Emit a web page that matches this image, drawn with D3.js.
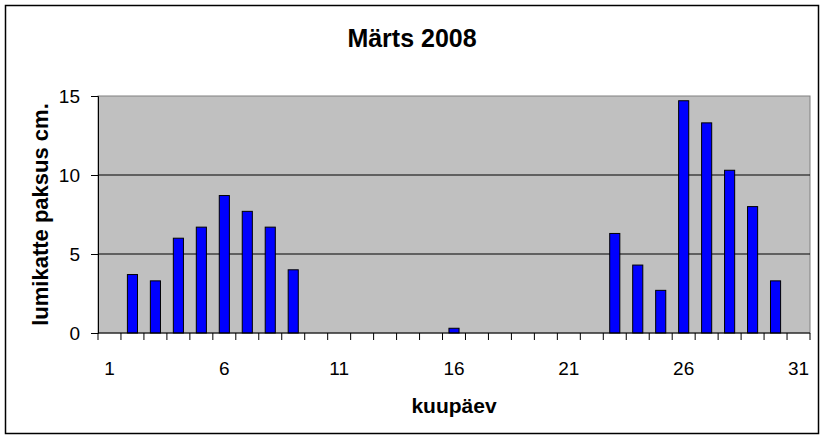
<!DOCTYPE html>
<html>
<head>
<meta charset="utf-8">
<script src="https://cdn.jsdelivr.net/npm/d3@7"></script>
<style>
  body { margin: 0; background: #fff; }
  text { font-family: "Liberation Sans", Arial, sans-serif; }
</style>
</head>
<body>
<svg id="chart" width="826" height="440"></svg>
<script>
// Chart data
const days = d3.range(1, 32);
const snowDepth = [0, 3.7, 3.3, 6, 6.7, 8.7, 7.7, 6.7, 4, 0, 0, 0, 0, 0, 0, 0.3,
                   0, 0, 0, 0, 0, 0, 6.3, 4.3, 2.7, 14.7, 13.3, 10.3, 8, 3.3, 0];
const xTickLabels = [1, 6, 11, 16, 21, 26, 31];
const yTicks = [0, 5, 10, 15];

const width = 826, height = 440;
const margin = { top: 96, right: 16, bottom: 107, left: 98 };
const plotW = width - margin.left - margin.right;
const plotH = height - margin.top - margin.bottom;

const svg = d3.select("#chart");

// Outer frame
svg.append("rect")
    .attr("x", 5.5).attr("y", 5.5)
    .attr("width", 813).attr("height", 428)
    .attr("fill", "#fff")
    .attr("stroke", "#000")
    .attr("stroke-width", 1.5);

const x = d3.scaleBand()
    .domain(days)
    .range([0, plotW])
    .paddingInner(0.56)
    .paddingOuter(0.28);

const y = d3.scaleLinear()
    .domain([0, 15])
    .range([plotH, 0]);

const g = svg.append("g")
    .attr("transform", `translate(${margin.left},${margin.top})`);

// Plot area background
g.append("rect")
    .attr("width", plotW)
    .attr("height", plotH)
    .attr("fill", "#c0c0c0")
    .attr("stroke", "#808080");

// Gridlines
g.selectAll("line.grid")
    .data(yTicks.filter(d => d > 0 && d < 15))
    .enter()
    .append("line")
    .attr("class", "grid")
    .attr("x1", 0).attr("x2", plotW)
    .attr("y1", d => y(d)).attr("y2", d => y(d))
    .attr("stroke", "#000");

// Bars
g.selectAll("rect.bar")
    .data(days.map((d, i) => ({ day: d, value: snowDepth[i] })).filter(d => d.value > 0))
    .enter()
    .append("rect")
    .attr("class", "bar")
    .attr("x", d => x(d.day))
    .attr("y", d => y(d.value))
    .attr("width", x.bandwidth())
    .attr("height", d => plotH - y(d.value))
    .attr("fill", "#0000ff")
    .attr("stroke", "#000")
    .attr("stroke-width", 1);

// Y axis
const yAxis = g.append("g")
    .call(d3.axisLeft(y).tickValues(yTicks).tickSize(7).tickPadding(11));
yAxis.selectAll("text")
    .attr("font-size", 19)
    .attr("fill", "#000");
yAxis.select(".domain").attr("stroke", "#000");

// X axis: ticks at band boundaries, labels every 5 days
const step = x.step();
const xAxis = g.append("g")
    .attr("transform", `translate(0,${plotH})`);
xAxis.append("line")
    .attr("x1", 0).attr("x2", plotW)
    .attr("stroke", "#000");
xAxis.selectAll("line.tick")
    .data(d3.range(0, days.length + 1))
    .enter()
    .append("line")
    .attr("class", "tick")
    .attr("x1", i => i * step).attr("x2", i => i * step)
    .attr("y1", 0).attr("y2", 7)
    .attr("stroke", "#000");
xAxis.selectAll("text")
    .data(xTickLabels)
    .enter()
    .append("text")
    .attr("x", d => x(d) + x.bandwidth() / 2)
    .attr("y", 42)
    .attr("text-anchor", "middle")
    .attr("font-size", 19)
    .text(d => d);

// Title
svg.append("text")
    .attr("x", 412)
    .attr("y", 47)
    .attr("text-anchor", "middle")
    .attr("font-size", 25)
    .attr("font-weight", "bold")
    .text("Märts 2008");

// Axis titles
svg.append("text")
    .attr("x", margin.left + plotW / 2)
    .attr("y", 413)
    .attr("text-anchor", "middle")
    .attr("font-size", 21)
    .attr("font-weight", "bold")
    .text("kuupäev");

svg.append("text")
    .attr("transform", `translate(48,${margin.top + plotH / 2}) rotate(-90)`)
    .attr("text-anchor", "middle")
    .attr("font-size", 22)
    .attr("font-weight", "bold")
    .text("lumikatte paksus cm.");
</script>
</body>
</html>
